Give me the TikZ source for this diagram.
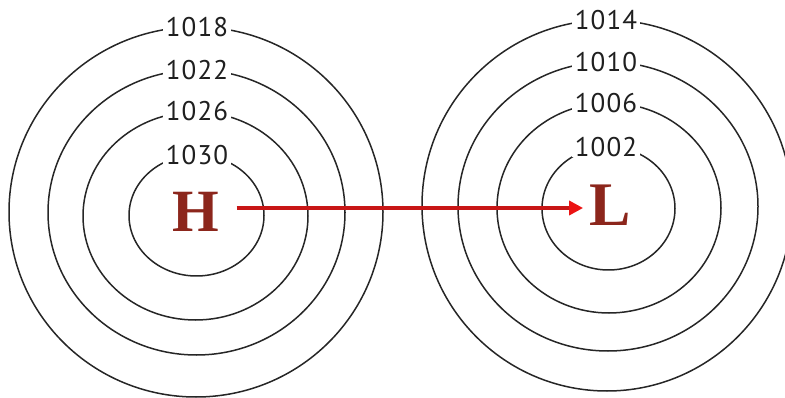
\documentclass[tikz,border=0pt]{standalone}
\usepackage{fontspec}
\setmainfont{Liberation Serif}
\newfontfamily\labfont[LetterSpace=4]{PT Sans}
\usetikzlibrary{arrows.meta}
\definecolor{hlcol}{RGB}{140,38,28}
\definecolor{arrcol}{RGB}{200,22,22}
\definecolor{tipcol}{RGB}{235,20,20}
\tikzset{
  isobar/.style={draw=black!85, line width=1.5pt},
  plabel/.style={fill=white, inner xsep=3pt, inner ysep=0pt, font=\labfont\fontsize{27}{27}\selectfont, text=black!88},
  centre/.style={font=\bfseries\fontsize{60}{60}\selectfont, text=hlcol, inner ysep=0pt},
  flow/.style={draw=arrcol, line width=3.4pt, -{Triangle[length=14pt,width=14pt,fill=tipcol,color=tipcol]}}
}
\begin{document}
\begin{tikzpicture}[x=1pt,y=-1pt]
\useasboundingbox (0,0) rectangle (785,398);
\clip (0,0) rectangle (785,398);
% high pressure rings
\draw[isobar] (196,212) ellipse [x radius=187pt, y radius=185pt];
\draw[isobar] (196.5,212.5) ellipse [x radius=148.5pt, y radius=142.5pt];
\draw[isobar] (195.5,216) ellipse [x radius=112.5pt, y radius=104pt];
\draw[isobar] (196.5,215.5) ellipse [x radius=67.5pt, y radius=60.5pt];
% low pressure rings
\draw[isobar] (607,205.5) ellipse [x radius=185pt, y radius=185.5pt];
\draw[isobar] (608,206.5) ellipse [x radius=150pt, y radius=144.5pt];
\draw[isobar] (609,208) ellipse [x radius=112pt, y radius=105pt];
\draw[isobar] (608.5,208.5) ellipse [x radius=66.5pt, y radius=61.5pt];
% labels
\node[plabel] (p1018) at (197,27) {1018};
\node[plabel] (p1022) at (197,70) {1022};
\node[plabel] (p1026) at (197,111) {1026};
\node[plabel] (p1030) at (197,155) {1030};
\node[plabel] (p1014) at (606,20) {1014};
\node[plabel] (p1010) at (606,62) {1010};
\node[plabel] (p1006) at (606,103) {1006};
\node[plabel] (p1002) at (606,147) {1002};
% centres
\node[centre, inner xsep=17pt] (H) at (196,212) {H};
\node[centre, inner xsep=6pt, font=\bfseries\fontsize{62}{62}\selectfont] (L) at (610,205) {L};
\coordinate (ay) at (0,208);
\draw[flow] (H.east |- ay) -- (L.west |- ay);
\end{tikzpicture}
\end{document}
